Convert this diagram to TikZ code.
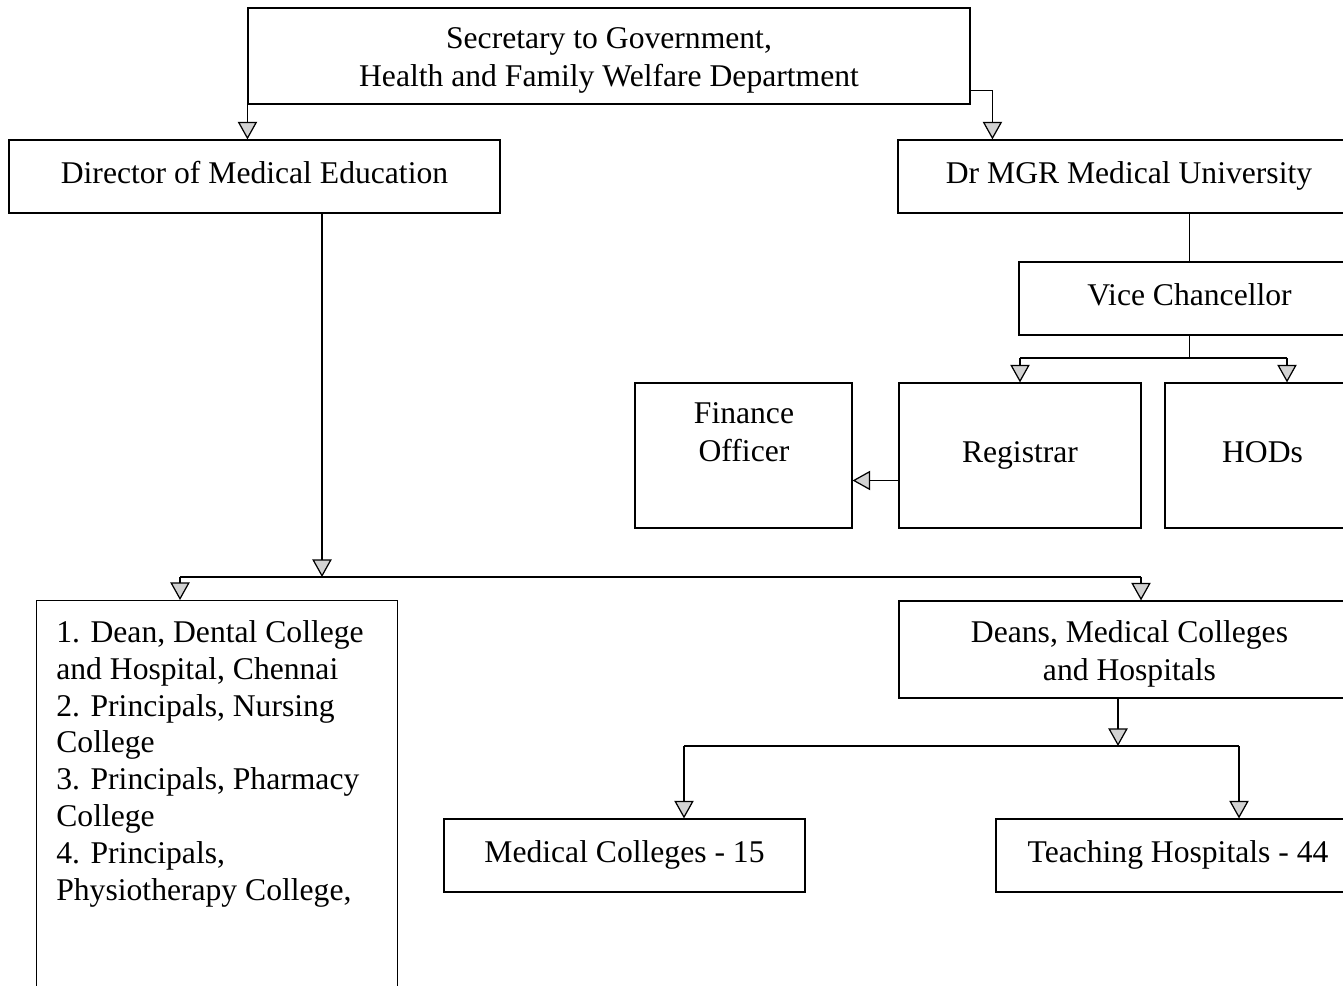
\documentclass[tikz,border=0pt]{standalone}
\usepackage{fontspec}
\setmainfont{Liberation Serif}
\usetikzlibrary{arrows.meta, positioning, calc}
\tikzset{
    orgbox/.style={rectangle, draw=black, line width=0.7pt, inner sep=0pt, text centered, align=center, text height=13pt, text depth=5pt, font=\fontsize{18}{21.5}\selectfont},
    boxtext/.style={inner sep=0pt, align=center, font=\fontsize{18}{21.5}\selectfont},
    arrow/.style={line width=0.7pt, -{Triangle[width=11pt, length=10pt, fill=gray!35]}},
    link/.style={line width=0.7pt}
}
\begin{document}
\begin{tikzpicture}[x=0.02cm, y=-0.02cm]
        \useasboundingbox (0,0) rectangle (1343,986);
        \clip (0,0) rectangle (1343,986);

        % Top level
        \node (sec) [orgbox, minimum width=14.44cm, minimum height=1.92cm] at (609,56) {};
        \node (sectext) [boxtext] at (609,60.5) {Secretary to Government,\\Health and Family Welfare Department};

        % Second level
        \node (dir) [orgbox, minimum width=9.82cm, minimum height=1.46cm] at (254.5,176.5) {Director of Medical Education};
        \node (mgr) [orgbox, minimum width=9.24cm, minimum height=1.46cm] at (1129,176.5) {Dr MGR Medical University};

        % University side
        \node (vc) [orgbox, minimum width=6.82cm, minimum height=1.46cm] at (1189.5,298.5) {Vice Chancellor};
        \node (fin) [orgbox, minimum width=4.34cm, minimum height=2.9cm] at (743.5,455.5) {};
        \node (fintext) [boxtext] at (744,432.5) {Finance\\Officer};
        \node (reg) [orgbox, minimum width=4.84cm, minimum height=2.9cm] at (1020,455.5) {Registrar};
        \node (hod) [orgbox, minimum width=3.9cm, minimum height=2.9cm] at (1262.5,455.5) {HODs};

        % Directorate side
        \node (list) [orgbox, anchor=north west, minimum width=7.22cm, minimum height=8cm] at (36,600) {};
        \node (listtext) [boxtext, anchor=north west, align=left, font=\fontsize{18}{21}\selectfont] at (56,620)
            {1. Dean, Dental College\\and Hospital, Chennai\\2. Principals, Nursing\\College\\3. Principals, Pharmacy\\College\\4. Principals,\\Physiotherapy College,};
        \node (deans) [orgbox, minimum width=9.22cm, minimum height=1.94cm] at (1129.5,649.5) {};
        \node (deanstext) [boxtext] at (1129.5,654) {Deans, Medical Colleges\\and Hospitals};
        \node (medc) [orgbox, minimum width=7.22cm, minimum height=1.46cm] at (624.5,855.5) {Medical Colleges - 15};
        \node (teach) [orgbox, minimum width=7.28cm, minimum height=1.46cm] at (1178,855.5) {Teaching Hospitals - 44};

        % Junction points
        \coordinate (split) at (322,577);
        \coordinate (busL) at (180,577);
        \coordinate (busR) at (1141,577);
        \coordinate (vcbus) at (1189.5,358);
        \coordinate (hodin) at (1287,358);
        \coordinate (dbus) at (1118,746);
        \coordinate (dL) at (684,746);
        \coordinate (dR) at (1239,746);

        % Connections
        \draw[arrow] (sec.south west) -- (sec.south west |- dir.north);
        \draw[arrow] ($(sec.south east)+(0,-14)$) -| ($(mgr.north west)+(95,0)$);

        \draw[arrow] (dir.south -| split) -- (split);
        \draw[link] (busL) -- (busR);
        \draw[arrow] (busL) -- (busL |- list.north);
        \draw[arrow] (busR) -- (busR |- deans.north);

        \draw[link] (mgr.south -| vc.north) -- (vc.north);
        \draw[link] (vc.south) -- (vcbus);
        \draw[link] (reg.north |- vcbus) -- (hodin);
        \draw[arrow] (reg.north |- vcbus) -- (reg.north);
        \draw[arrow] (hodin) -- (hodin |- hod.north);
        \draw[arrow] ([yshift=-0.5cm]reg.west) -- ([yshift=-0.5cm]fin.east);

        \draw[arrow] (deans.south -| dbus) -- (dbus);
        \draw[link] (dL) -- (dR);
        \draw[arrow] (dL) -- (dL |- medc.north);
        \draw[arrow] (dR) -- (dR |- teach.north);
    \end{tikzpicture}
\end{document}
